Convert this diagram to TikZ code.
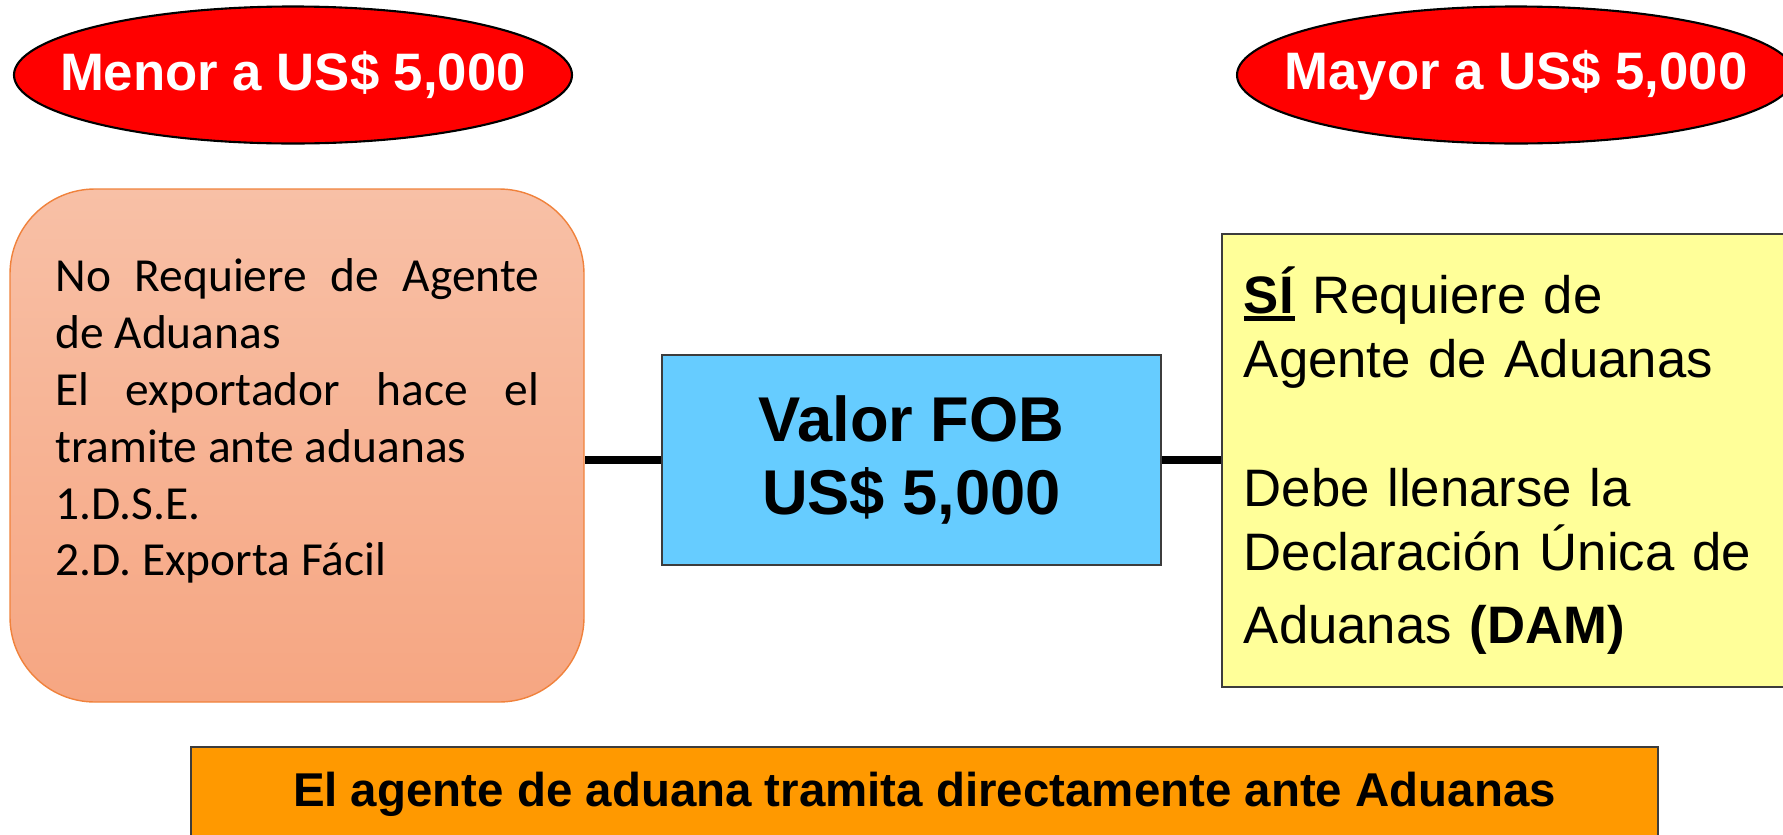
\documentclass[tikz,border=0pt]{standalone}
\usepackage{fontspec}
\setmainfont{Liberation Sans}
\newfontfamily\calibri{Carlito}
\usepackage{xcolor}
\usepackage{tikz}
\usetikzlibrary{shapes.geometric}

\definecolor{rojo}{RGB}{255,0,0}
\definecolor{durazno1}{RGB}{248,192,166}
\definecolor{durazno2}{RGB}{246,166,130}
\definecolor{bordenaranja}{RGB}{240,130,60}
\definecolor{celeste}{RGB}{102,204,255}
\definecolor{amarillo}{RGB}{255,255,153}
\definecolor{naranja}{RGB}{255,153,0}
\definecolor{gris}{RGB}{60,60,60}
\setlength{\parindent}{0pt}
\newcommand{\subraya}[1]{\setbox0\hbox{#1}\rlap{\rule[-4pt]{\wd0}{2.4pt}}\box0\relax}

\begin{document}
\begin{tikzpicture}[
            elipse/.style = {ellipse, draw=black, line width=1.2pt, fill=rojo, text=white,
                minimum width=11.16cm, minimum height=2.74cm, inner xsep=-0.75cm, inner ysep=0pt,
                font=\bfseries\fontsize{30}{36}\selectfont},
            caja redonda/.style = {rectangle, rounded corners=1.7cm, draw=bordenaranja, line width=0.8pt,
                top color=durazno1, bottom color=durazno2,
                minimum width=11.48cm, minimum height=10.26cm},
            texto izq/.style = {text width=9.68cm, align=justify, inner sep=0pt,
                font=\calibri\fontsize{27}{32.4}\selectfont},
            caja azul/.style = {rectangle, draw=gris, line width=1pt, fill=celeste,
                minimum width=9.98cm, minimum height=4.2cm, align=center,
                font=\bfseries\fontsize{36}{42}\selectfont},
            caja amarilla/.style = {rectangle, draw=gris, line width=1pt, fill=amarillo,
                text width=11.2cm, inner xsep=0.44cm, minimum height=9.06cm, align=left,
                font=\fontsize{30}{36.5}\selectfont},
            barra/.style = {rectangle, draw=gris, line width=1pt, fill=naranja,
                minimum width=29.34cm, minimum height=1.88cm,
                font=\bfseries\fontsize{27}{32}\selectfont},
            conector/.style = {line width=4.5pt, black}
        ]
            \useasboundingbox (0,0) rectangle (35.66,-16.68);
            % Elipses de arriba
            \node[elipse] (menor) at (5.86,-1.5) {Menor a US\$ 5,000};
            \node[elipse] (mayor) at (30.32,-1.5) {Mayor a US\$ 5,000};
            % Caja izquierda
            \node[caja redonda] (requisitos) at (5.94,-8.91) {};
            \node[texto izq, anchor=north west] (nota) at (1.1,-5.16)
                {No Requiere de Agente\linebreak de Aduanas\par
                 El exportador hace el\linebreak tramite ante aduanas\par
                 1.D.S.E.\par
                 2.D. Exporta Fácil};
            % Caja central
            \node[caja azul] (fob) at (18.23,-9.2) {Valor FOB\\US\$ 5,000};
            % Caja derecha
            \node[caja amarilla, anchor=west] (dam) at (24.42,-9.21)
                {\subraya{\textbf{SÍ}} Requiere de\\
                 Agente de Aduanas\\[36.5pt]
                 Debe llenarse la\\
                 Declaración Única de\\[5pt]
                 Aduanas \textbf{(DAM)}};
            % Barra de abajo
            \node[barra] (agente) at (18.49,-15.88) {El agente de aduana tramita directamente ante Aduanas};
            % Lineas
            \draw[conector] (fob.west) -- (fob.west -| requisitos.east);
            \draw[conector] (fob.east) -- (fob.east -| dam.west);
       \end{tikzpicture}
\end{document}
